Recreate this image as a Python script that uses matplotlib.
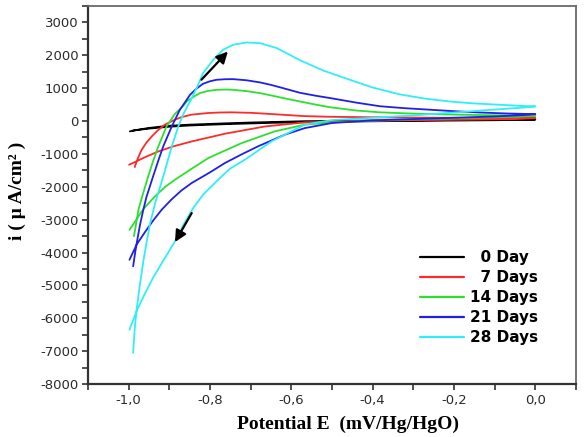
import matplotlib
matplotlib.use("Agg")
import matplotlib.pyplot as plt
from matplotlib.ticker import MultipleLocator, FuncFormatter

# ---------------- data ----------------
series_names = ["0 Day", "7 Days", "14 Days", "21 Days", "28 Days"]
series_colors = ["#000000", "#ff2a2a", "#2ee02e", "#2020e8", "#30eef8"]

# each curve: one continuous path (return branch start -> E=0 -> forward branch end)
E_0 = [-0.997, -0.98, -0.95, -0.903, -0.85, -0.763, -0.70, -0.567, -0.40, -0.20, 0.00,
       -0.10, -0.30, -0.50, -0.65, -0.763, -0.85, -0.903, -0.95, -0.99]
I_0 = [-315, -270, -210, -145, -110, -70, -45, -5, 15, 30, 45,
       25, 5, -20, -55, -95, -135, -175, -230, -290]

E_7 = [-0.985, -0.978, -0.968, -0.956, -0.943, -0.927, -0.911, -0.890, -0.870,
       -0.845, -0.804, -0.776, -0.747, -0.70, -0.665, -0.620, -0.567, -0.505,
       -0.40, -0.30, -0.15, 0.00,
       -0.05, -0.20, -0.40, -0.50, -0.567, -0.665, -0.763, -0.845, -0.89,
       -0.927, -0.96, -0.98, -0.999]
I_7 = [-1400, -1150, -875, -650, -465, -270, -110, 20, 120,
       195, 245, 260, 265, 250, 225, 190, 150, 130,
       115, 105, 95, 90,
       60, 40, 10, -15, -40, -165, -385, -620, -770,
       -925, -1100, -1220, -1330]

E_14 = [-0.987, -0.982, -0.976, -0.964, -0.952, -0.940, -0.927, -0.907, -0.886,
        -0.866, -0.857, -0.84, -0.825, -0.805, -0.784, -0.76, -0.743, -0.71,
        -0.677, -0.650, -0.620, -0.579, -0.54, -0.505, -0.44, -0.382, -0.32,
        -0.26, -0.15, 0.00,
        -0.05, -0.15, -0.30, -0.40, -0.50, -0.567, -0.641, -0.722, -0.76,
        -0.804, -0.845, -0.886, -0.91, -0.931, -0.945, -0.964, -0.98, -0.998]
I_14 = [-3500, -3150, -2700, -2180, -1685, -1220, -770, -165, 220,
        460, 600, 740, 850, 915, 950, 960, 950, 910,
        850, 780, 700, 595, 500, 420, 320, 265, 235,
        210, 185, 160,
        130, 100, 50, 10, -40, -110, -315, -670, -880,
        -1125, -1450, -1785, -2000, -2240, -2420, -2680, -2980, -3310]

E_21 = [-0.989, -0.984, -0.980, -0.972, -0.964, -0.956, -0.940, -0.927, -0.915,
        -0.894, -0.874, -0.862, -0.849, -0.833, -0.817, -0.800, -0.784, -0.763,
        -0.743, -0.71, -0.677, -0.650, -0.620, -0.579, -0.54, -0.505, -0.44,
        -0.382, -0.32, -0.26, -0.20, -0.137, -0.07, 0.00,
        -0.03, -0.10, -0.20, -0.30, -0.40, -0.50, -0.567, -0.616, -0.682,
        -0.72, -0.763, -0.80, -0.845, -0.87, -0.895, -0.919, -0.94, -0.96,
        -0.980, -0.998]
I_21 = [-4420, -4000, -3700, -3150, -2700, -2300, -1685, -1200, -770,
        -165, 345, 560, 800, 990, 1135, 1210, 1255, 1272,
        1275, 1240, 1175, 1100, 1000, 860, 770, 700, 560,
        450, 390, 345, 300, 260, 230, 210,
        180, 140, 100, 60, 20, -60, -215, -415, -770,
        -1000, -1275, -1560, -1885, -2110, -2390, -2700, -3030, -3380,
        -3750, -4220]

E_28 = [-0.989, -0.985, -0.980, -0.972, -0.964, -0.956, -0.948, -0.935, -0.915,
        -0.894, -0.878, -0.866, -0.849, -0.833, -0.817, -0.792, -0.768, -0.743,
        -0.710, -0.677, -0.636, -0.604, -0.579, -0.52, -0.456, -0.40, -0.333,
        -0.27, -0.211, -0.15, -0.087, -0.04, 0.00,
        -0.03, -0.10, -0.20, -0.30, -0.40, -0.50, -0.567, -0.600, -0.649,
        -0.714, -0.751, -0.780, -0.817, -0.841, -0.865, -0.886, -0.915, -0.940,
        -0.96, -0.979, -0.998]
I_28 = [-7050, -6300, -5690, -4950, -4270, -3700, -3150, -2500, -1685,
        -770, -165, 200, 600, 1000, 1460, 1865, 2170, 2320,
        2390, 2370, 2220, 2015, 1850, 1530, 1255, 1020, 810,
        680, 595, 535, 495, 465, 445,
        410, 350, 260, 170, 100, 30, -110, -315, -620,
        -1175, -1450, -1785, -2240, -2640, -3150, -3660, -4250, -4770,
        -5250, -5740, -6345]

E_data = [E_0, E_7, E_14, E_21, E_28]
I_data = [I_0, I_7, I_14, I_21, I_28]

# scan-direction arrows (tail -> tip), data coordinates
arrow_up = ((-0.821, 1258), (-0.756, 2115))
arrow_down = ((-0.845, -2800), (-0.886, -3680))

x_label = "Potential E  (mV/Hg/HgO)"
y_label = "i ( µ A/cm² )"

# ---------------- figure ----------------
plt.rcParams["axes.unicode_minus"] = False
fig = plt.figure(figsize=(5.84, 4.37), dpi=100)
W, H = 584, 437
ax = fig.add_axes([88 / W, 1 - 384 / H, 488 / W, 378 / H])

for name, col, E, I in zip(series_names, series_colors, E_data, I_data):
    ax.plot(E, I, color=col, lw=1.3, label=name, solid_joinstyle="round",
            solid_capstyle="round")

for tail, tip in (arrow_up, arrow_down):
    ax.annotate("", xy=tip, xytext=tail,
                arrowprops=dict(arrowstyle="-|>", color="black", lw=1.6,
                                mutation_scale=17, shrinkA=0, shrinkB=0))

ax.set_xlim(-1.1, 0.1)
ax.set_ylim(-8000, 3500)
ax.xaxis.set_major_locator(MultipleLocator(0.2))
ax.xaxis.set_minor_locator(MultipleLocator(0.1))
ax.yaxis.set_major_locator(MultipleLocator(1000))
ax.yaxis.set_minor_locator(MultipleLocator(500))


def xfmt(v, p):
    if abs(v) < 1e-9:
        v = 0.0
    return f"{v:.1f}".replace(".", ",")


ax.xaxis.set_major_formatter(FuncFormatter(xfmt))
ax.yaxis.set_major_formatter(FuncFormatter(lambda v, p: f"{int(round(v))}"))

ax.tick_params(which="both", direction="out", length=4, width=1.2,
               color="#333333", top=False, right=False)
ax.tick_params(which="major", labelsize=9.5, labelcolor="#2a2a2a", pad=3)
for lab in ax.get_xticklabels() + ax.get_yticklabels():
    lab.set_family("DejaVu Sans")

for s in ("left", "bottom"):
    ax.spines[s].set_color("#333333")
    ax.spines[s].set_linewidth(1.6)
for s in ("top", "right"):
    ax.spines[s].set_color("#6a6a6a")
    ax.spines[s].set_linewidth(1.3)

ax.set_xlabel(x_label, family="Liberation Serif", fontweight="bold",
              fontsize=14)
ax.xaxis.set_label_coords(0.533, -0.085)
ax.set_ylabel(y_label, family="Liberation Serif", fontweight="bold",
              fontsize=14)
ax.yaxis.set_label_coords(-0.128, 0.51)

handles, labels = ax.get_legend_handles_labels()
labels = [("  " + l) if len(l.split()[0]) == 1 else l for l in labels]
leg = fig.legend(handles, labels, loc="upper left",
                 bbox_to_anchor=(420 / W, 1 - 250 / H),
                 frameon=False, borderpad=0, borderaxespad=0,
                 handlelength=2.9, handletextpad=0.4, labelspacing=0.33,
                 prop=dict(family="DejaVu Sans", weight="bold", size=11))
for line in leg.get_lines():
    line.set_linewidth(1.6)

fig.savefig("out.png", dpi=100)
